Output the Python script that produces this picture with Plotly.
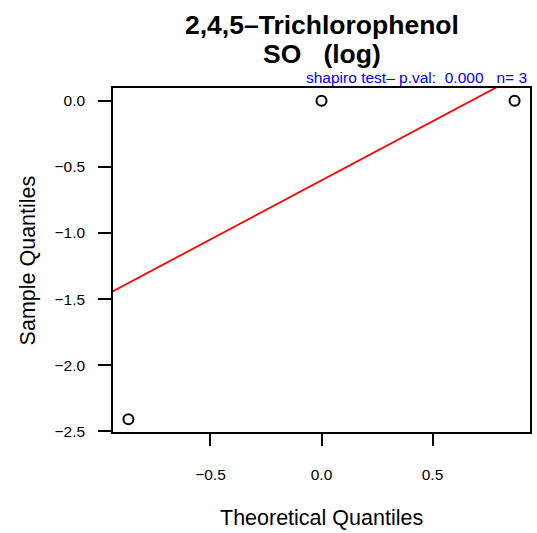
import plotly.graph_objects as go
import numpy as np
from statistics import NormalDist

# ---- data ----
sample_values = [-2.408, 0.0, 0.0]
title_lines = ["2,4,5\u2013Trichlorophenol", "SO\u00a0\u00a0\u00a0(log)"]
subtitle = "shapiro test\u2013 p.val:\u00a0\u00a00.000\u00a0\u00a0\u00a0n= 3"
x_ticks = [-0.5, 0.0, 0.5]
x_ticktext = ["\u22120.5", "0.0", "0.5"]
y_ticks = [0.0, -0.5, -1.0, -1.5, -2.0, -2.5]
y_ticktext = ["0.0", "\u22120.5", "\u22121.0", "\u22121.5", "\u22122.0", "\u22122.5"]

# ---- theoretical quantiles (R ppoints, a = 3/8) ----
n = len(sample_values)
a = 3 / 8
probs = [(i + 1 - a) / (n + 1 - 2 * a) for i in range(n)]
nd = NormalDist()
theo = [nd.inv_cdf(p) for p in probs]
ys = sorted(sample_values)

# qqline through 1st and 3rd quartiles
q_y = np.quantile(ys, [0.25, 0.75])
q_x = [nd.inv_cdf(0.25), nd.inv_cdf(0.75)]
slope = (q_y[1] - q_y[0]) / (q_x[1] - q_x[0])
intercept = q_y[0] - slope * q_x[0]

def expand(lo, hi):
    d = (hi - lo) * 0.04
    return [lo - d, hi + d]

xr = expand(min(theo), max(theo))
yr = expand(min(ys), max(ys))

line_x = [xr[0] - 1, xr[1] + 1]
line_y = [intercept + slope * v for v in line_x]

FONT = "Liberation Sans, Arial, Helvetica, sans-serif"
W, H = 537, 533
ML, MR, MT, MB = 113, 5, 88, 101
PW, PH = W - ML - MR, H - MT - MB

def py(pix):  # pixel row -> paper y
    return (H - MB - pix) / PH

def px(pix):  # pixel col -> paper x
    return (pix - ML) / PW

fig = go.Figure()
fig.add_trace(go.Scatter(x=line_x, y=line_y, mode="lines",
                         line=dict(color="#ff0000", width=1.8),
                         hoverinfo="skip", showlegend=False))
fig.add_trace(go.Scatter(x=theo, y=ys, mode="markers",
                         marker=dict(symbol="circle-open", size=10, color="black",
                                     line=dict(width=2, color="black")),
                         showlegend=False))

fig.update_layout(
    width=W, height=H,
    margin=dict(l=ML, r=MR, t=MT, b=MB),
    paper_bgcolor="white", plot_bgcolor="white",
    font=dict(family=FONT, color="black"),
    showlegend=False,
    xaxis=dict(range=xr, tickvals=x_ticks, ticktext=x_ticktext,
               showgrid=False, zeroline=False,
               showline=True, linecolor="black", linewidth=1.5, mirror=True,
               ticks="outside", ticklen=12, tickwidth=1.5, tickcolor="black",
               tickfont=dict(size=15.5, family=FONT, color="black"),
               ticklabelstandoff=16),
    yaxis=dict(range=yr, tickvals=y_ticks, ticktext=y_ticktext,
               showgrid=False, zeroline=False,
               showline=True, linecolor="black", linewidth=1.5, mirror=True,
               ticks="outside", ticklen=13, tickwidth=1.5, tickcolor="black",
               tickfont=dict(size=15.5, family=FONT, color="black"),
               ticklabelstandoff=10),
    annotations=[
        dict(text="<b>" + title_lines[0] + "</b>", xref="paper", yref="paper",
             x=0.5, y=py(25), xanchor="center", yanchor="middle",
             showarrow=False, font=dict(size=26.5, family=FONT, color="black")),
        dict(text="<b>" + title_lines[1] + "</b>", xref="paper", yref="paper",
             x=0.5, y=py(54), xanchor="center", yanchor="middle",
             showarrow=False, font=dict(size=26.5, family=FONT, color="black")),
        dict(text="Theoretical Quantiles", xref="paper", yref="paper",
             x=0.5, y=py(518), xanchor="center", yanchor="middle",
             showarrow=False, font=dict(size=21.5, family=FONT, color="black")),
        dict(text="Sample Quantiles", xref="paper", yref="paper",
             x=px(28), y=0.5, xanchor="center", yanchor="middle",
             textangle=-90, showarrow=False,
             font=dict(size=21.5, family=FONT, color="black")),
        dict(text=subtitle, xref="paper", yref="paper",
             x=px(531), y=py(78), xanchor="right", yanchor="middle",
             showarrow=False, font=dict(size=15.5, family=FONT, color="#0000ff")),
    ],
)

fig.write_html("out.html", config={"displayModeBar": False},
               post_script="document.body.style.margin='0';document.body.style.overflow='hidden';")
